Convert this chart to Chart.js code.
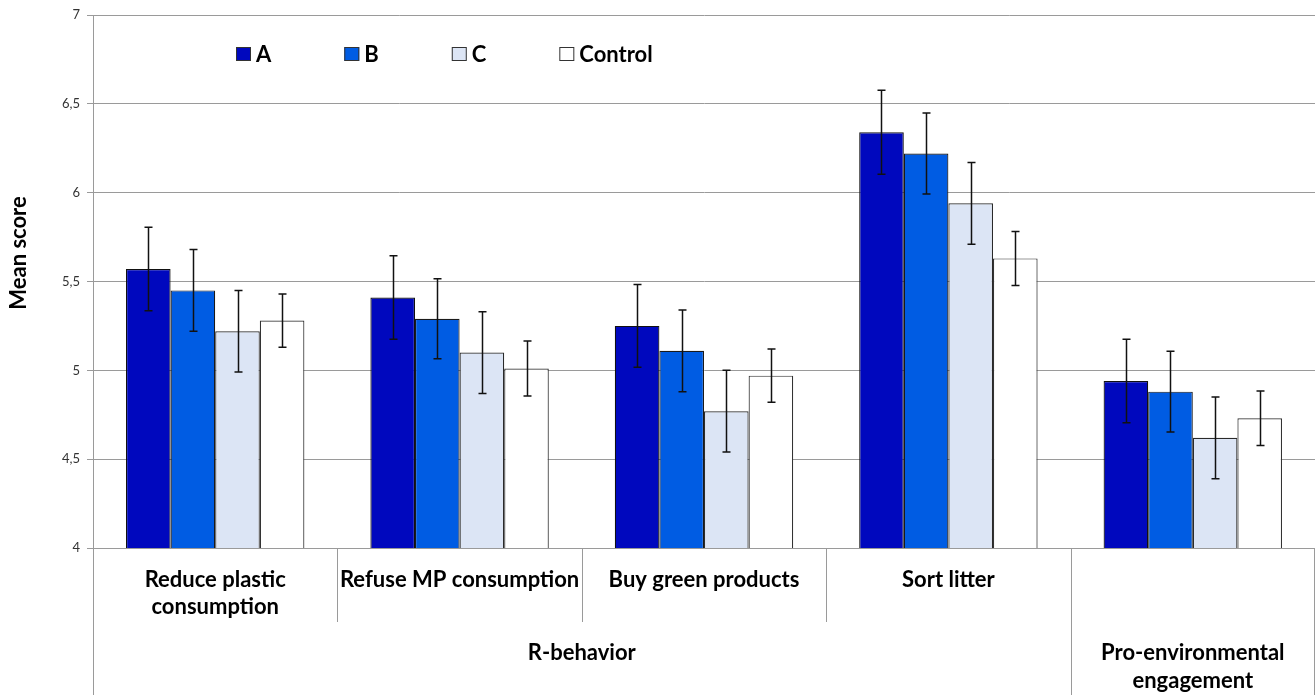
<!DOCTYPE html>
<html>
<head>
<meta charset="utf-8">
<title>Mean score by behaviour and condition</title>
<script src="https://cdn.jsdelivr.net/npm/chart.js@4.4.1/dist/chart.umd.min.js"></script>
<style>
  html, body { margin: 0; padding: 0; background: #ffffff; }
  #wrap { width: 1315px; height: 695px; position: relative; }
</style>
</head>
<body>
<div id="wrap"><canvas id="chart" width="1315" height="695"></canvas></div>
<script>
// Sub-categories along the x axis (array = multi-line label)
const categories = [
  ["Reduce plastic", "consumption"],
  "Refuse MP consumption",
  "Buy green products",
  "Sort litter",
  ""
];
// Higher-level groups and how many sub-categories each spans
const groupLabels = [["R-behavior"], ["Pro-environmental", "engagement"]];
const groupSpans = [4, 1];

const seriesNames = ["A", "B", "C", "Control"];

// Mean scores
const valuesA       = [5.57, 5.41, 5.25, 6.34, 4.94];
const valuesB       = [5.45, 5.29, 5.11, 6.22, 4.88];
const valuesC       = [5.22, 5.10, 4.77, 5.94, 4.62];
const valuesControl = [5.28, 5.01, 4.97, 5.63, 4.73];

// Error bar half-widths
const errA       = [0.235, 0.235, 0.233, 0.236, 0.235];
const errB       = [0.230, 0.225, 0.230, 0.228, 0.227];
const errC       = [0.230, 0.230, 0.230, 0.230, 0.230];
const errControl = [0.150, 0.155, 0.150, 0.152, 0.153];

// Y-axis ticks
const yTicks = [4, 4.5, 5, 5.5, 6, 6.5, 7];

const FONT = "Lato, 'Open Sans', sans-serif";
const LABEL_SIZE = 22;
const fillColors = ["#0008BE", "#005CE3", "#DCE5F5", "#FFFFFF"];
const borderColors = ["#111111", "#1a1a1a", "#2a2a2a", "#333333"];

const seriesValues = [valuesA, valuesB, valuesC, valuesControl];
const seriesErrors = [errA, errB, errC, errControl];

const datasets = seriesNames.map((name, i) => ({
  label: name,
  data: seriesValues[i],
  errors: seriesErrors[i],
  backgroundColor: fillColors[i],
  borderColor: borderColors[i],
  borderWidth: 1.2,
  borderSkipped: false,
  barPercentage: 1.0,
  categoryPercentage: 0.73
}));

// Error bars drawn from each bar's value +/- its error through the y scale
const errorBarPlugin = {
  id: "errorBars",
  afterDatasetsDraw(chart) {
    const ctx = chart.ctx;
    const y = chart.scales.y;
    ctx.save();
    ctx.strokeStyle = "#111111";
    ctx.lineWidth = 1.5;
    chart.data.datasets.forEach((ds, di) => {
      const meta = chart.getDatasetMeta(di);
      meta.data.forEach((bar, i) => {
        const v = ds.data[i], e = ds.errors[i];
        const yt = y.getPixelForValue(v + e);
        const yb = y.getPixelForValue(v - e);
        const cx = Math.round(bar.x) + 0.5;
        const cap = 4;
        ctx.beginPath();
        ctx.moveTo(cx, yt); ctx.lineTo(cx, yb);
        ctx.moveTo(cx - cap, yt); ctx.lineTo(cx + cap, yt);
        ctx.moveTo(cx - cap, yb); ctx.lineTo(cx + cap, yb);
        ctx.stroke();
      });
    });
    ctx.restore();
  }
};

// Legend inside the plot area, the y title and the grouped category axis
const decorPlugin = {
  id: "decor",
  afterDraw(chart) {
    const ctx = chart.ctx;
    const x = chart.scales.x;
    const area = chart.chartArea;
    const H = chart.height;
    ctx.save();

    // Legend
    ctx.font = "bold " + LABEL_SIZE + "px " + FONT;
    ctx.textBaseline = "middle";
    ctx.textAlign = "left";
    let lx = area.left + 143;
    const ly = 54;
    chart.data.datasets.forEach((ds) => {
      ctx.fillStyle = ds.backgroundColor;
      ctx.fillRect(lx, ly - 7, 15, 14);
      ctx.strokeStyle = "#333333";
      ctx.lineWidth = 1;
      ctx.strokeRect(lx + 0.5, ly - 6.5, 14, 13);
      ctx.fillStyle = "#000000";
      ctx.fillText(ds.label, lx + 20, ly + 1);
      lx += 20 + ctx.measureText(ds.label).width + 73;
    });

    // Y axis title
    ctx.save();
    ctx.translate(19, 253);
    ctx.rotate(-Math.PI / 2);
    ctx.textAlign = "center";
    ctx.textBaseline = "middle";
    ctx.font = "bold " + LABEL_SIZE + "px " + FONT;
    ctx.fillStyle = "#000000";
    ctx.fillText("Mean score", 0, 0);
    ctx.restore();

    // Category separators below the axis
    const n = categories.length;
    const step = (x.right - x.left) / n;
    ctx.strokeStyle = "#9a9a9a";
    ctx.lineWidth = 1;
    const boundaries = [];
    let acc = 0;
    groupSpans.forEach((s) => { acc += s; boundaries.push(acc); });
    for (let i = 1; i < n; i++) {
      const px = Math.round(x.left + i * step) + 0.5;
      const full = boundaries.includes(i);
      ctx.beginPath();
      ctx.moveTo(px, area.bottom);
      ctx.lineTo(px, full ? H : area.bottom + 74);
      ctx.stroke();
    }
    // Outer verticals of the axis table
    ctx.beginPath();
    ctx.moveTo(Math.round(x.left) + 0.5, area.bottom);
    ctx.lineTo(Math.round(x.left) + 0.5, H);
    ctx.moveTo(Math.round(x.right) - 0.5, area.bottom);
    ctx.lineTo(Math.round(x.right) - 0.5, H);
    ctx.stroke();

    // Group labels
    ctx.font = "bold " + LABEL_SIZE + "px " + FONT;
    ctx.fillStyle = "#000000";
    ctx.textAlign = "center";
    ctx.textBaseline = "middle";
    let start = 0;
    groupSpans.forEach((s, gi) => {
      const cx = x.left + (start + s / 2) * step;
      groupLabels[gi].forEach((line, li) => {
        ctx.fillText(line, cx, 653 + li * 28);
      });
      start += s;
    });

    ctx.restore();
  }
};

new Chart(document.getElementById("chart"), {
  type: "bar",
  data: { labels: categories, datasets },
  plugins: [errorBarPlugin, decorPlugin],
  options: {
    responsive: false,
    animation: false,
    layout: { padding: { top: 15, right: 0, bottom: 0, left: 0 } },
    plugins: { legend: { display: false }, tooltip: { enabled: false } },
    scales: {
      x: {
        grid: { display: false, drawTicks: false },
        border: { display: true, color: "#9a9a9a", width: 1 },
        ticks: {
          color: "#000000",
          font: { family: FONT, size: LABEL_SIZE, weight: "bold", lineHeight: 1.23 },
          padding: 18,
          maxRotation: 0,
          autoSkip: false
        },
        afterFit(scale) { scale.height = 147; }
      },
      y: {
        min: 4,
        max: 7,
        afterBuildTicks(scale) { scale.ticks = yTicks.map(v => ({ value: v })); },
        grid: { color: "#9a9a9a", lineWidth: 1, tickLength: 6, drawTicks: true },
        border: { display: true, color: "#9a9a9a", width: 1 },
        ticks: {
          color: "#333333",
          padding: 7,
          font: { family: FONT, size: 13 },
          callback: (v) => String(v).replace(".", ",")
        },
        afterFit(scale) { scale.width = 93; }
      }
    }
  }
});
</script>
</body>
</html>
